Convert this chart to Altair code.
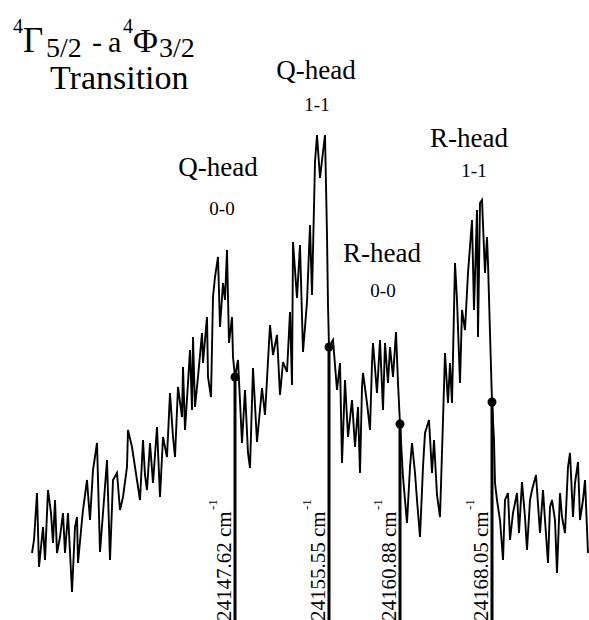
import altair as alt
import pandas as pd

# ---- spectrum (sample position, intensity in arbitrary units) ----
channel = [32, 34, 37, 39, 41, 43, 45, 48, 51, 53, 55, 57, 60, 63, 65, 68, 72, 75, 77, 78,
           82, 83, 87, 90, 93, 97, 100, 103, 107, 110, 113, 117, 120, 123, 127, 128, 132, 135, 140, 143,
           145, 147, 150, 153, 157, 160, 163, 167, 170, 173, 175, 178, 182, 183, 185, 188, 190, 192, 193, 195,
           198, 202, 203, 207, 208, 211, 213, 215, 218, 220, 223, 225, 227, 229, 232, 233, 235, 238, 242, 245,
           248, 250, 253, 257, 262, 265, 270, 273, 277, 280, 283, 287, 290, 292, 293, 297, 300, 303, 307, 310,
           312, 315, 317, 320, 323, 325, 327, 328, 329, 333, 337, 340, 342, 345, 348, 352, 355, 358, 360, 362,
           363, 367, 370, 372, 373, 377, 380, 383, 385, 388, 390, 393, 396, 398, 400, 403, 407, 410, 412, 415,
           417, 420, 423, 425, 429, 432, 434, 437, 440, 443, 445, 448, 450, 452, 455, 457, 460, 462, 465, 468,
           472, 474, 477, 478, 480, 482, 485, 487, 488, 490, 492, 494, 495, 497, 500, 503, 505, 508, 510, 513,
           517, 519, 522, 525, 527, 530, 532, 536, 540, 543, 545, 548, 550, 552, 555, 557, 560, 562, 565, 568,
           570, 573, 575, 578, 580, 583, 585, 588]
intensity = [67, 80, 127, 53, 73, 93, 60, 130, 107, 77, 120, 67, 83, 107, 67, 107, 28, 93, 103, 57,
             100, 110, 140, 100, 150, 177, 68, 107, 160, 60, 140, 147, 110, 123, 153, 190, 173, 153, 120, 180,
             145, 130, 177, 137, 193, 123, 183, 163, 227, 183, 163, 233, 203, 253, 190, 237, 270, 210, 283, 213,
             243, 287, 257, 303, 243, 223, 323, 343, 363, 293, 337, 320, 370, 277, 303, 263, 243, 260, 177, 230,
             167, 152, 252, 178, 232, 205, 295, 265, 285, 225, 258, 248, 308, 235, 378, 322, 375, 268, 318, 395,
             325, 458, 485, 442, 468, 485, 385, 315, 273, 280, 230, 257, 157, 240, 183, 220, 173, 213, 147, 233,
             247, 217, 190, 257, 277, 227, 280, 210, 277, 237, 273, 243, 288, 237, 196, 143, 97, 153, 177, 147,
             120, 83, 153, 187, 200, 147, 180, 125, 103, 200, 267, 217, 257, 217, 357, 320, 237, 310, 290, 347,
             400, 310, 410, 283, 417, 420, 347, 383, 357, 287, 218, 180, 137, 120, 100, 60, 120, 127, 80, 107,
             127, 87, 138, 103, 70, 120, 130, 145, 87, 130, 100, 57, 113, 120, 100, 47, 127, 103, 87, 153,
             167, 103, 137, 158, 100, 120, 140, 67]

# ---- marked band heads ----
head_pos = [235, 329, 400, 492]
head_value = [243, 273, 196, 218]
head_wavenumber = ["24147.62", "24155.55", "24160.88", "24168.05"]

# ---- annotation texts ----
ann_text = ["Q-head", "0-0", "Q-head", "1-1", "R-head", "0-0", "R-head", "1-1"]
title_text = ["4", "Γ", "5/2", "-", "a", "4", "Φ", "3/2", "Transition"]

# ---- layout (chart units) ----
ann_x = [218, 222, 316, 317, 382, 383, 469, 474]
ann_y = [444, 405, 541, 509, 358, 323, 473, 443]
ann_size = [27, 19, 27, 19, 27, 19, 27, 19]
title_x = [13, 23, 46, 92, 108, 123, 133, 159, 50]
title_y = [587, 568, 563, 568, 568, 587, 568, 563, 531]
title_size = [20, 35, 28, 30, 30, 20, 34, 28, 34]

FONT = "Liberation Serif"
xs = alt.Scale(domain=[0, 589], nice=False, zero=False)
ys = alt.Scale(domain=[0, 620], nice=False, zero=False)

spec_df = pd.DataFrame({"channel": channel, "intensity": intensity})
head_df = pd.DataFrame({"pos": head_pos, "val": head_value,
                        "label": [w + " cm" for w in head_wavenumber]})
ann_df = pd.DataFrame({"t": ann_text, "x": ann_x, "y": ann_y, "s": ann_size})
title_df = pd.DataFrame({"t": title_text, "x": title_x, "y": title_y, "s": title_size})

spectrum = alt.Chart(spec_df).mark_line(color="black", strokeWidth=1.9).encode(
    x=alt.X("channel:Q", scale=xs, axis=None),
    y=alt.Y("intensity:Q", scale=ys, axis=None),
)

rules = alt.Chart(head_df).mark_rule(color="black", strokeWidth=3).encode(
    x=alt.X("pos:Q", scale=xs, axis=None),
    y=alt.Y("val:Q", scale=ys, axis=None),
    y2=alt.datum(0),
)

dots = alt.Chart(head_df).mark_circle(color="black", opacity=1, size=80).encode(
    x=alt.X("pos:Q", scale=xs, axis=None),
    y=alt.Y("val:Q", scale=ys, axis=None),
)

labels = alt.Chart(head_df).transform_calculate(
    lx="datum.pos - 4", ly="-1"
).mark_text(angle=270, align="left", baseline="alphabetic", font=FONT,
            fontSize=21, color="black").encode(
    x=alt.X("lx:Q", scale=xs, axis=None),
    y=alt.Y("ly:Q", scale=ys, axis=None),
    text="label:N",
)

sups = alt.Chart(head_df).transform_calculate(
    sx="datum.pos - 18", sy="110", st="'-1'"
).mark_text(angle=270, align="left", baseline="alphabetic", font=FONT,
            fontSize=13, color="black").encode(
    x=alt.X("sx:Q", scale=xs, axis=None),
    y=alt.Y("sy:Q", scale=ys, axis=None),
    text="st:N",
)

ann = alt.Chart(ann_df).mark_text(align="center", baseline="alphabetic", font=FONT,
                                  color="black").encode(
    x=alt.X("x:Q", scale=xs, axis=None),
    y=alt.Y("y:Q", scale=ys, axis=None),
    text="t:N",
    size=alt.Size("s:Q", scale=None, legend=None),
)

title = alt.Chart(title_df).mark_text(align="left", baseline="alphabetic", font=FONT,
                                      color="black").encode(
    x=alt.X("x:Q", scale=xs, axis=None),
    y=alt.Y("y:Q", scale=ys, axis=None),
    text="t:N",
    size=alt.Size("s:Q", scale=None, legend=None),
)

chart = alt.layer(spectrum, rules, dots, labels, sups, ann, title).properties(
    width=589, height=620, padding=0,
    autosize=alt.AutoSizeParams(type="none"),
    background="white",
).configure_view(stroke=None)

chart.save("out.html", embed_options={"renderer": "svg", "actions": False})
